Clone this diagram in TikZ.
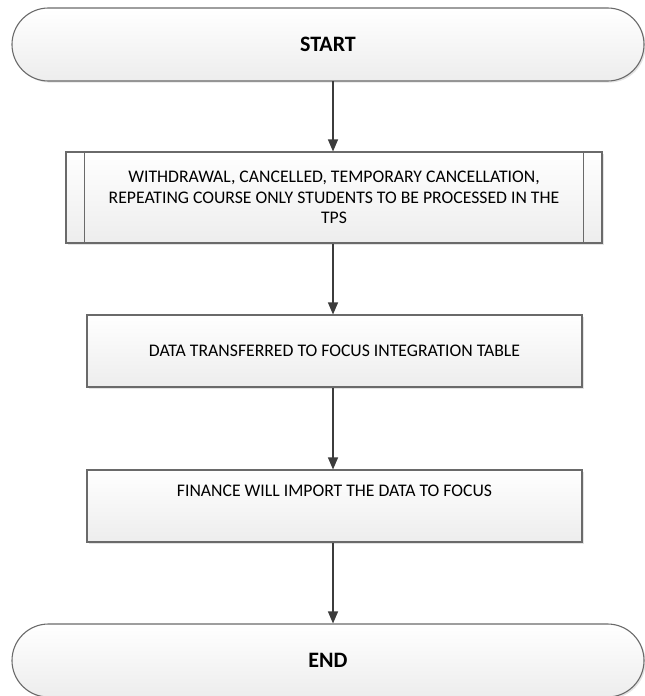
\documentclass[tikz,border=0pt]{standalone}
\usepackage{fontspec}
\setmainfont{Carlito}
\usetikzlibrary{arrows.meta,shadows}
\definecolor{edge}{HTML}{6A6A6A}
\definecolor{arrowc}{HTML}{3C3C3C}
\definecolor{fillbot}{HTML}{EDEDED}
\begin{document}
\begin{tikzpicture}[x=1pt,y=-1pt,
  base/.style={draw=edge, line width=1.1pt, top color=white, bottom color=fillbot,
    drop shadow={opacity=0.22, shadow xshift=1.6pt, shadow yshift=-1.6pt}},
  terminal/.style={base, rounded corners=36.5pt, minimum width=632pt, minimum height=73pt,
    inner sep=0pt, font=\fontsize{22}{26}\selectfont\bfseries},
  procbox/.style={base, minimum width=495pt, minimum height=72pt, inner sep=0pt,
    font=\fontsize{17.7}{21}\selectfont},
  subbox/.style={base, minimum width=536pt, minimum height=91pt, inner sep=0pt,
    align=center, font=\fontsize{17.7}{20.5}\selectfont},
  flow/.style={draw=arrowc, line width=1.2pt, -{Triangle[width=10pt,length=12pt]}}]
\useasboundingbox (0,0) rectangle (645,696);
\begin{scope}
\clip (0,0) rectangle (645,696);
\node[terminal] (start) at (328,44.5) {START};
\node[subbox] (tps) at (334,197.5) {WITHDRAWAL, CANCELLED, TEMPORARY CANCELLATION,\\REPEATING COURSE ONLY STUDENTS TO BE PROCESSED IN THE\\TPS};
\draw[edge, line width=1.1pt] ([xshift=19pt]tps.north west) -- ([xshift=19pt]tps.south west);
\draw[edge, line width=1.1pt] ([xshift=-19pt]tps.north east) -- ([xshift=-19pt]tps.south east);
\node[procbox] (transfer) at (334.5,351) {DATA TRANSFERRED TO FOCUS INTEGRATION TABLE};
\node[procbox, text height=12pt, text depth=30.5pt] (import) at (334.5,506) {FINANCE WILL IMPORT THE DATA TO FOCUS};
\node[terminal] (finish) at (328,660.5) {END};
\coordinate (a1) at (333,81);
\draw[flow] (a1) -- (a1 |- tps.north);
\draw[flow] (tps.south -| a1) -- (a1 |- transfer.north);
\draw[flow] (transfer.south -| a1) -- (a1 |- import.north);
\draw[flow] (import.south -| a1) -- (a1 |- finish.north);
\end{scope}
\end{tikzpicture}
\end{document}
